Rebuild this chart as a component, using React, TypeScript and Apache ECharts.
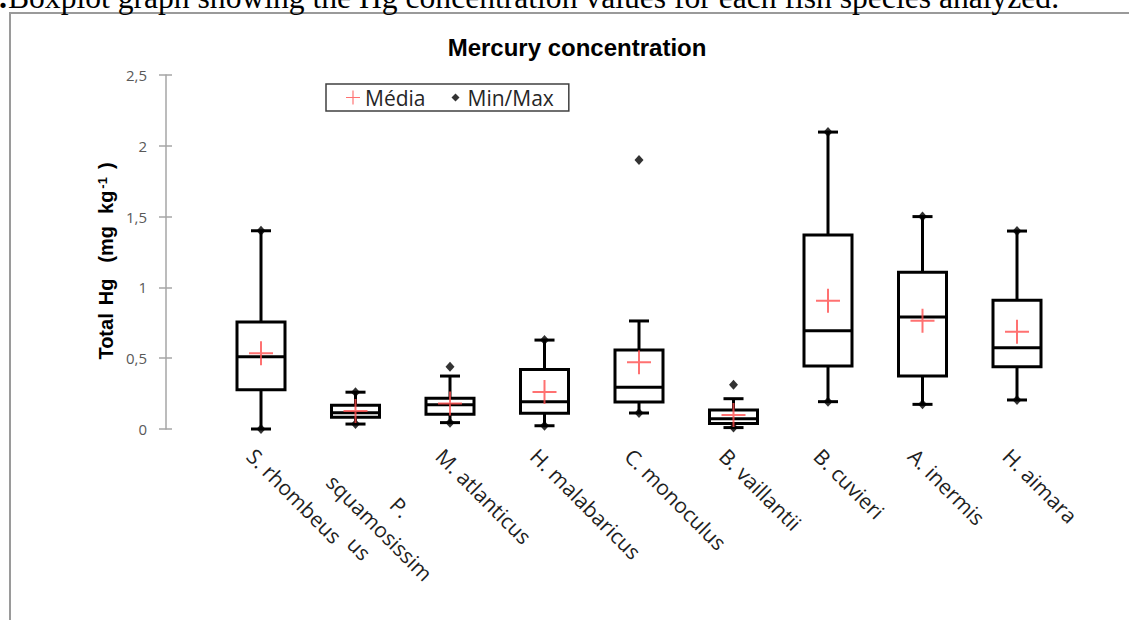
import React, { useEffect, useRef } from 'react';
import * as echarts from 'echarts';

const categories = [
  'S. rhombeus',
  'P. squamosissimus',
  'M. atlanticus',
  'H. malabaricus',
  'C. monoculus',
  'B. vaillantii',
  'B. cuvieri',
  'A. inermis',
  'H. aimara',
];
const whiskerLow = [0.0, 0.035, 0.045, 0.023, 0.113, 0.01, 0.193, 0.174, 0.205];
const q1 = [0.278, 0.083, 0.104, 0.111, 0.19, 0.038, 0.445, 0.374, 0.44];
const median = [0.51, 0.115, 0.172, 0.193, 0.294, 0.073, 0.694, 0.791, 0.574];
const q3 = [0.756, 0.167, 0.217, 0.42, 0.558, 0.134, 1.37, 1.107, 0.909];
const whiskerHigh = [1.4, 0.26, 0.374, 0.628, 0.763, 0.214, 2.097, 1.5, 1.398];
const meanValues = [0.535, 0.127, 0.18, 0.261, 0.471, 0.099, 0.906, 0.765, 0.687];
const minValues = [0.0, 0.035, 0.045, 0.023, 0.113, 0.01, 0.193, 0.174, 0.205];
const maxValues = [1.4, 0.26, 0.44, 0.628, 1.9, 0.313, 2.097, 1.5, 1.398];
const yTicks = { min: 0, max: 2.5, interval: 0.5 };

const TITLE = 'Mercury concentration';
const CAPTION = 'Boxplot graph showing the Hg concentration values for each fish species analyzed.';

const PLUS = 'path://M-1,-12H1V12H-1Z M-12,-1H12V1H-12Z';
const DIAMOND_ICON = 'path://M0,-4L4,0L0,4L-4,0Z M-7,-7 M7,7';

const LABEL_FONT = '"Open Sans", "Noto Sans", sans-serif';
const BOLD_FONT = '"Liberation Sans", Arial, sans-serif';

const nameTok = (pad: number, size = 20, extra: any = {}) => ({
  fontFamily: BOLD_FONT,
  fontSize: size,
  fontWeight: 'bold',
  fill: '#000',
  padding: [0, pad, 0, 0],
  ...extra,
});

export default function App() {
  const ref = useRef<HTMLDivElement>(null);

  useEffect(() => {
    if (!ref.current) return;
    const chart = echarts.init(ref.current, undefined, { renderer: 'svg' });

    const boxData = categories.map((_, i) => [i, whiskerLow[i], q1[i], median[i], q3[i], whiskerHigh[i]]);
    const meanData = meanValues.map((v, i) => [i, v]);
    const minMaxData = [...minValues.map((v, i) => [i, v]), ...maxValues.map((v, i) => [i, v])];

    const yBase = {
      type: 'value',
      min: yTicks.min,
      max: yTicks.max,
      interval: yTicks.interval,
      offset: 47.75,
      position: 'left',
      splitLine: { show: false },
    };

    const option: any = {
      animation: false,
      backgroundColor: '#fff',
      title: {
        text: TITLE,
        left: 577,
        top: 35,
        textAlign: 'center',
        padding: 0,
        textStyle: {
          fontFamily: BOLD_FONT,
          fontSize: 24,
          fontWeight: 'bold',
          color: '#000',
          lineHeight: 24,
        },
      },
      legend: {
        left: 326,
        top: 84,
        orient: 'horizontal',
        data: [
          { name: 'Média', icon: PLUS },
          { name: 'Min/Max', icon: DIAMOND_ICON },
        ],
        itemWidth: 14,
        itemHeight: 14,
        itemGap: 23,
        padding: [3, 15, 3, 20],
        borderColor: '#404040',
        borderWidth: 1.5,
        selectedMode: false,
        textStyle: {
          fontFamily: LABEL_FONT,
          fontSize: 21,
          color: '#262626',
          lineHeight: 21,
        },
      },
      grid: {
        left: 213.75,
        right: 64.75,
        top: 75,
        bottom: 191,
        containLabel: false,
        outerBoundsMode: 'none',
      },
      xAxis: {
        type: 'category',
        data: categories,
        boundaryGap: true,
        axisLine: { show: false },
        axisTick: { show: false },
        splitLine: { show: false },
        axisLabel: {
          interval: 0,
          rotate: -45,
          margin: 13,
          verticalAlign: 'top',
          lineHeight: 29,
          fontFamily: LABEL_FONT,
          fontSize: 21,
          color: '#1f1f1f',
          formatter: (v: string) =>
            v === 'P. squamosissimus' ? '{c|P.}\n{s|squamosissim}\n{c|us}' : v,
          rich: {
            c: { align: 'center', fontFamily: LABEL_FONT, fontSize: 21, color: '#1f1f1f', lineHeight: 29 },
            s: { fontFamily: LABEL_FONT, fontSize: 21, color: '#1f1f1f', lineHeight: 29, padding: [0, 8, 0, 8] },
          },
        },
      },
      yAxis: [
        {
          ...yBase,
          axisLine: { show: true, lineStyle: { color: '#a6a6a6', width: 1.5 } },
          axisTick: { show: true, length: 7, lineStyle: { color: '#a6a6a6', width: 1.5 } },
          axisLabel: {
            margin: 19,
            fontFamily: LABEL_FONT,
            fontSize: 15,
            color: '#595959',
            formatter: (v: number) => String(v).replace('.', ','),
          },
        },
        {
          ...yBase,
          axisLine: { show: false },
          axisTick: { show: true, inside: true, length: 6, lineStyle: { color: '#a6a6a6', width: 1.5 } },
          axisLabel: { show: false },
        },
      ],
      series: [
        {
          type: 'custom',
          name: 'Boxes',
          silent: true,
          z: 2,
          encode: { x: 0, y: [1, 2, 3, 4, 5] },
          data: boxData,
          renderItem: (params: any, api: any) => {
            const idx = api.value(0);
            const lo = api.coord([idx, api.value(1)]);
            const b1 = api.coord([idx, api.value(2)]);
            const md = api.coord([idx, api.value(3)]);
            const b3 = api.coord([idx, api.value(4)]);
            const hi = api.coord([idx, api.value(5)]);
            const band = api.size([1, 0])[0];
            const hb = band * 0.254;
            const hc = band * 0.106;
            const x = lo[0];
            const st = { stroke: '#000', lineWidth: 3, fill: null };
            return {
              type: 'group',
              children: [
                { type: 'line', shape: { x1: x, y1: lo[1], x2: x, y2: b1[1] }, style: st },
                { type: 'line', shape: { x1: x, y1: b3[1], x2: x, y2: hi[1] }, style: st },
                { type: 'line', shape: { x1: x - hc, y1: lo[1], x2: x + hc, y2: lo[1] }, style: st },
                { type: 'line', shape: { x1: x - hc, y1: hi[1], x2: x + hc, y2: hi[1] }, style: st },
                {
                  type: 'rect',
                  shape: { x: x - hb, y: b3[1], width: 2 * hb, height: b1[1] - b3[1] },
                  style: { stroke: '#000', lineWidth: 3, fill: '#fff' },
                },
                { type: 'line', shape: { x1: x - hb, y1: md[1], x2: x + hb, y2: md[1] }, style: st },
              ],
            };
          },
        },
        {
          type: 'scatter',
          name: 'Min/Max',
          z: 3,
          silent: true,
          symbol: 'diamond',
          symbolSize: [9, 10],
          itemStyle: { color: '#000' },
          data: minMaxData,
        },
        {
          type: 'scatter',
          name: 'Média',
          z: 4,
          silent: true,
          symbol: PLUS,
          symbolSize: 24,
          itemStyle: { color: '#ff4d4d' },
          data: meanData,
        },
      ],
      graphic: [
        {
          type: 'rect',
          z: -1,
          silent: true,
          shape: { x: 10, y: 13, width: 1200, height: 700 },
          style: { fill: 'none', stroke: '#9a9a9a', lineWidth: 2 },
        },
        {
          type: 'text',
          x: -1,
          y: -3,
          silent: true,
          style: {
            text: '.',
            fontFamily: '"Liberation Serif", serif',
            fontSize: 32,
            fontWeight: 'bold',
            fill: '#000',
            verticalAlign: 'middle',
          },
        },
        {
          type: 'text',
          x: 8,
          y: -3,
          silent: true,
          style: {
            text: CAPTION,
            fontFamily: '"Liberation Serif", serif',
            fontSize: 31.6,
            fill: '#000',
            verticalAlign: 'middle',
          },
        },
        {
          type: 'text',
          x: 106,
          y: 261,
          rotation: Math.PI / 2,
          silent: true,
          style: {
            text: '{a|Total}{b|Hg}{c|(mg}{d|kg}{s|-1}{e|)}',
            fontFamily: BOLD_FONT,
            fontSize: 20,
            fontWeight: 'bold',
            fill: '#000',
            align: 'center',
            verticalAlign: 'middle',
            rich: {
              a: nameTok(8),
              b: nameTok(16),
              c: nameTok(12),
              d: nameTok(2),
              s: nameTok(8, 13, { verticalAlign: 'top' }),
              e: nameTok(0),
            },
          },
        },
      ],
    };

    chart.setOption(option);
    return () => chart.dispose();
  }, []);

  return (
    <div
      ref={ref}
      style={{ position: 'absolute', left: 0, top: 0, width: 1129, height: 620 }}
    />
  );
}
